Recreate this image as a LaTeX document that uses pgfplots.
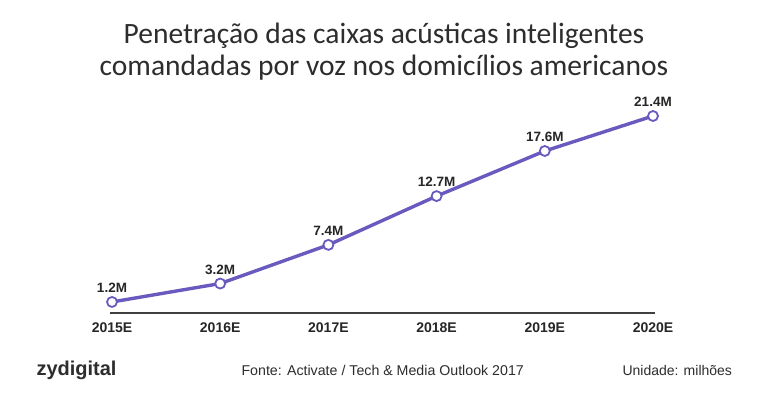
\documentclass[border=0pt]{standalone}
\usepackage{pgfplots}
\pgfplotsset{compat=1.18}
\usepackage{fontspec}
\setmainfont{Liberation Sans}
\newfontfamily\titlefont{Carlito}
\definecolor{linepurple}{RGB}{104,90,190}
\definecolor{txt}{RGB}{45,45,45}
\begin{document}
\begin{tikzpicture}[x=1pt,y=1pt]
\path[use as bounding box, fill=white] (0,0) rectangle (768,400);
\node[text=txt, font=\titlefont\fontsize{29.5}{32}\selectfont, align=center] at (384,348) {Penetração das caixas acústicas inteligentes\\comandadas por voz nos domicílios americanos};
\begin{axis}[
  at={(112pt,87pt)}, anchor=origin,
  scale only axis, width=541pt, height=197pt,
  xmin=0, xmax=5, ymin=0, ymax=21.4,
  clip=false,
  hide y axis,
  axis x line*=bottom,
  x axis line style={draw=none},
  xtick={0,1,2,3,4,5},
  xticklabels={2015E,2016E,2017E,2018E,2019E,2020E},
  major tick length=0pt,
  xticklabel style={font=\bfseries\fontsize{14}{16}\selectfont, text=black!85, yshift=-6pt},
]
\draw[line width=1.6pt, color=black!75] (axis cs:-0.02,0) -- (axis cs:5.02,0);
\addplot[color=linepurple, line width=3.4pt, mark=*, mark size=5pt,
  mark options={fill=white, draw=linepurple, line width=1.8pt},
  nodes near coords={\pgfmathprintnumber[fixed,precision=1,fixed zerofill,assume math mode=true]{\pgfplotspointmeta}M},
  nodes near coords style={font=\bfseries\fontsize{13.5}{15}\selectfont, text=black!85, yshift=5pt},
  point meta=explicit]
coordinates {(0,1.2)[1.2] (1,3.2)[3.2] (2,7.4)[7.4] (3,12.7)[12.7] (4,17.6)[17.6] (5,21.4)[21.4]};
\end{axis}
\node[font=\bfseries\fontsize{20}{22}\selectfont, text=txt, anchor=west] at (33,30) {zydigital};
\node[font=\fontsize{14.2}{16}\selectfont, text=txt, anchor=west] at (238,30) {Fonte: Activate / Tech \& Media Outlook 2017};
\node[font=\fontsize{14}{16}\selectfont, text=txt, anchor=west] at (619,30) {Unidade: milhões};
\end{tikzpicture}
\end{document}
